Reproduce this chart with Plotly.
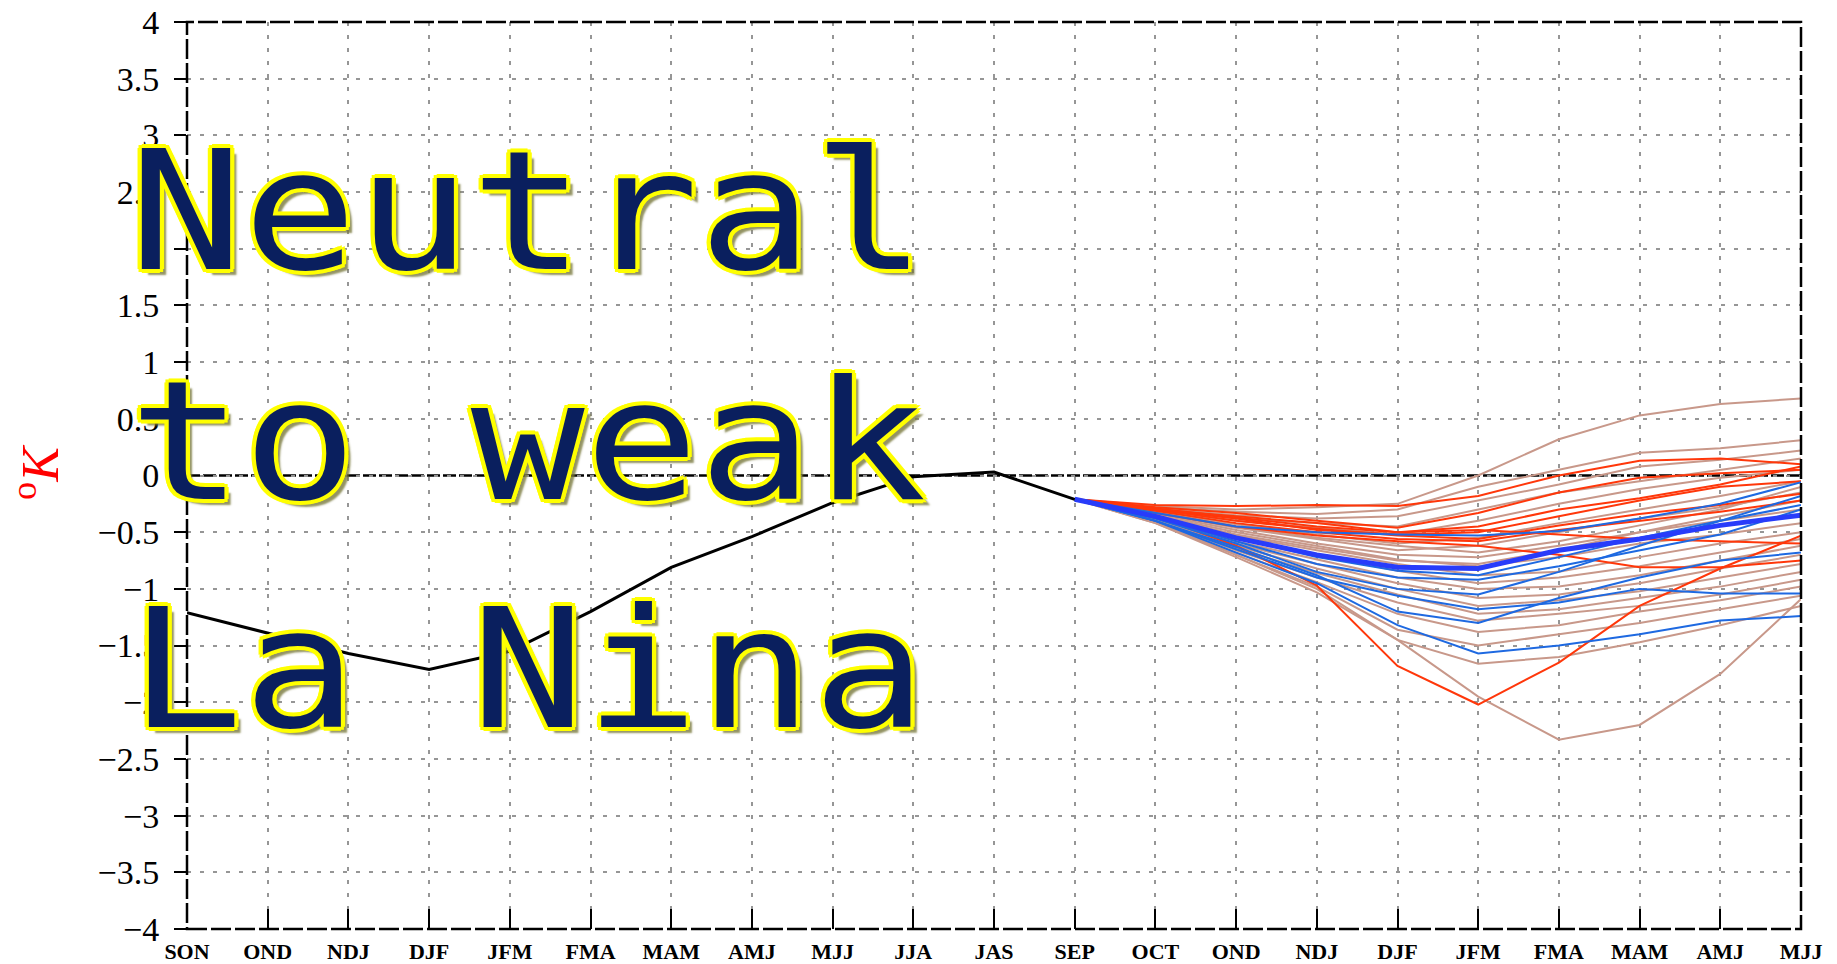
import plotly.graph_objects as go

# ---------------- data ----------------
season_labels = ["SON", "OND", "NDJ", "DJF", "JFM", "FMA", "MAM", "AMJ", "MJJ", "JJA",
                 "JAS", "SEP", "OCT", "OND", "NDJ", "DJF", "JFM", "FMA", "MAM", "AMJ", "MJJ"]
season_pos = list(range(len(season_labels)))

y_tick_vals = [4, 3.5, 3, 2.5, 2, 1.5, 1, 0.5, 0, -0.5, -1, -1.5, -2, -2.5, -3, -3.5, -4]
y_tick_text = ["4", "3.5", "3", "2.5", "2", "1.5", "1", "0.5", "0", "\u22120.5", "\u22121",
               "\u22121.5", "\u22122", "\u22122.5", "\u22123", "\u22123.5", "\u22124"]

# observed anomalies (SON .. SEP)
observed = [-1.21, -1.39, -1.57, -1.71, -1.55, -1.20, -0.81, -0.54, -0.24, -0.01, 0.03, -0.21]

# forecast positions: SEP .. MJJ (indices 11..20)
fc_pos = season_pos[11:]

red_members = [
    [-0.21, -0.36, -0.62, -0.97, -1.68, -2.02, -1.65, -1.15, -0.82, -0.53],
    [-0.21, -0.26, -0.27, -0.26, -0.27, -0.18, 0.00, 0.13, 0.15, 0.10],
    [-0.21, -0.28, -0.33, -0.40, -0.46, -0.33, -0.15, -0.02, 0.02, 0.05],
    [-0.21, -0.30, -0.38, -0.48, -0.52, -0.50, -0.36, -0.22, -0.10, -0.05],
    [-0.21, -0.31, -0.42, -0.50, -0.56, -0.58, -0.48, -0.40, -0.32, -0.22],
    [-0.21, -0.33, -0.45, -0.53, -0.58, -0.62, -0.70, -0.81, -0.81, -0.75],
    [-0.21, -0.30, -0.40, -0.47, -0.53, -0.56, -0.44, -0.34, -0.26, -0.16],
    [-0.21, -0.29, -0.37, -0.45, -0.50, -0.48, -0.52, -0.56, -0.58, -0.60],
    [-0.21, -0.30, -0.36, -0.42, -0.50, -0.45, -0.30, -0.20, -0.08, 0.08],
]

blue_members = [
    [-0.21, -0.40, -0.68, -0.95, -1.32, -1.57, -1.50, -1.40, -1.28, -1.24],
    [-0.21, -0.40, -0.65, -0.90, -1.06, -1.18, -1.12, -1.00, -1.04, -1.04],
    [-0.21, -0.38, -0.60, -0.85, -1.00, -1.05, -0.85, -0.62, -0.40, -0.18],
    [-0.21, -0.33, -0.45, -0.50, -0.52, -0.53, -0.49, -0.38, -0.25, -0.06],
    [-0.21, -0.37, -0.58, -0.78, -0.90, -0.92, -0.80, -0.66, -0.52, -0.30],
    [-0.21, -0.40, -0.63, -0.88, -1.20, -1.30, -1.08, -0.90, -0.75, -0.68],
    [-0.21, -0.36, -0.55, -0.72, -0.84, -0.88, -0.72, -0.55, -0.40, -0.26],
]

brown_members = [
    [-0.21, -0.27, -0.30, -0.28, -0.25, 0.00, 0.32, 0.53, 0.63, 0.68],
    [-0.21, -0.28, -0.32, -0.34, -0.30, -0.10, 0.05, 0.20, 0.24, 0.31],
    [-0.21, -0.29, -0.35, -0.38, -0.36, -0.22, -0.08, 0.08, 0.14, 0.22],
    [-0.21, -0.30, -0.38, -0.42, -0.45, -0.30, -0.15, -0.05, 0.05, 0.15],
    [-0.21, -0.31, -0.40, -0.46, -0.52, -0.40, -0.25, -0.12, -0.02, 0.05],
    [-0.21, -0.32, -0.43, -0.52, -0.60, -0.55, -0.42, -0.30, -0.18, -0.05],
    [-0.21, -0.33, -0.46, -0.56, -0.66, -0.62, -0.50, -0.38, -0.28, -0.15],
    [-0.21, -0.34, -0.48, -0.60, -0.70, -0.72, -0.62, -0.50, -0.40, -0.30],
    [-0.21, -0.35, -0.50, -0.62, -0.74, -0.80, -0.72, -0.60, -0.52, -0.42],
    [-0.21, -0.36, -0.53, -0.66, -0.78, -0.88, -0.85, -0.72, -0.60, -0.50],
    [-0.21, -0.37, -0.55, -0.70, -0.84, -0.95, -0.90, -0.80, -0.68, -0.56],
    [-0.21, -0.38, -0.58, -0.74, -0.90, -1.00, -0.98, -0.88, -0.75, -0.62],
    [-0.21, -0.38, -0.60, -0.78, -0.95, -1.08, -1.05, -0.95, -0.82, -0.70],
    [-0.21, -0.39, -0.62, -0.82, -1.00, -1.15, -1.10, -1.02, -0.90, -0.78],
    [-0.21, -0.40, -0.64, -0.86, -1.05, -1.22, -1.18, -1.08, -0.98, -0.85],
    [-0.21, -0.40, -0.66, -0.90, -1.12, -1.28, -1.22, -1.15, -1.05, -0.92],
    [-0.21, -0.41, -0.68, -0.94, -1.22, -1.38, -1.32, -1.20, -1.10, -0.98],
    [-0.21, -0.41, -0.70, -0.98, -1.36, -1.50, -1.40, -1.30, -1.18, -1.06],
    [-0.21, -0.42, -0.70, -1.00, -1.45, -1.66, -1.60, -1.47, -1.32, -1.15],
    [-0.21, -0.42, -0.72, -1.03, -1.45, -1.95, -2.33, -2.20, -1.75, -1.09],
    [-0.21, -0.36, -0.52, -0.64, -0.75, -0.78, -0.66, -0.50, -0.36, -0.22],
    [-0.21, -0.33, -0.45, -0.55, -0.62, -0.68, -0.58, -0.44, -0.30, -0.10],
]

ensemble_mean = [-0.21, -0.36, -0.55, -0.70, -0.81, -0.82, -0.66, -0.56, -0.44, -0.35]

overlay_lines = ["Neutral", "to weak", "La Nina"]

# ---------------- styles ----------------
RED = "rgb(255,55,10)"
BROWN = "rgb(200,152,138)"
BLUE = "rgb(30,105,225)"
MEAN = "rgb(40,60,250)"

fig = go.Figure()

for m in brown_members:
    fig.add_trace(go.Scatter(x=fc_pos, y=m, mode="lines",
                             line=dict(color=BROWN, width=2), hoverinfo="skip"))
for m in red_members:
    fig.add_trace(go.Scatter(x=fc_pos, y=m, mode="lines",
                             line=dict(color=RED, width=2), hoverinfo="skip"))
for m in blue_members:
    fig.add_trace(go.Scatter(x=fc_pos, y=m, mode="lines",
                             line=dict(color=BLUE, width=2), hoverinfo="skip"))
fig.add_trace(go.Scatter(x=fc_pos, y=ensemble_mean, mode="lines",
                         line=dict(color=MEAN, width=5), hoverinfo="skip"))
fig.add_trace(go.Scatter(x=season_pos[:len(observed)], y=observed, mode="lines",
                         line=dict(color="black", width=3), hoverinfo="skip"))

grid_dash = "4px,9px"
grid_col = "rgb(150,150,150)"
fig.update_xaxes(
    range=[0, 20], tickmode="array", tickvals=season_pos, ticktext=season_labels,
    ticks="inside", ticklen=20, tickwidth=1.5, tickcolor="black",
    tickfont=dict(family="Liberation Serif", size=22, color="black", weight="bold"),
    ticklabelstandoff=7, automargin=False,
    showgrid=True, gridcolor=grid_col, gridwidth=1.5, griddash=grid_dash,
    zeroline=False, showline=False,
)
fig.update_yaxes(
    range=[-4, 4], tickmode="array", tickvals=y_tick_vals, ticktext=y_tick_text,
    ticks="outside", ticklen=12, tickwidth=1.5, tickcolor="black",
    tickfont=dict(family="Liberation Serif", size=34, color="black"),
    ticklabelstandoff=8, automargin=False,
    showgrid=True, gridcolor=grid_col, gridwidth=1.5, griddash=grid_dash,
    zeroline=False, showline=False,
)

shapes = [
    dict(type="line", xref="paper", x0=0, x1=1, yref="y", y0=0, y1=0,
         line=dict(color="black", width=2.5, dash="13px,3px"), layer="below"),
    dict(type="rect", xref="paper", yref="paper", x0=0, x1=1, y0=0, y1=1,
         line=dict(color="black", width=2.5, dash="20px,4px"), layer="above"),
]

outline = ", ".join([
    "4px 0px 0px #ffff00", "-4px 0px 0px #ffff00", "0px 4px 0px #ffff00", "0px -4px 0px #ffff00",
    "3px 3px 0px #ffff00", "-3px -3px 0px #ffff00", "3px -3px 0px #ffff00", "-3px 3px 0px #ffff00",
    "6px 6px 2px rgba(120,120,60,0.8)",
])

overlay_y = [0.7910, 0.5374, 0.2860]
annotations = []
for txt, yy in zip(overlay_lines, overlay_y):
    annotations.append(dict(
        text=txt, xref="paper", yref="paper", x=-0.037, y=yy,
        xanchor="left", yanchor="middle", align="left", showarrow=False,
        font=dict(family="DejaVu Sans Mono", size=166, color="#0a1f5e", shadow=outline),
    ))
annotations.append(dict(
    text="<sup>o</sup><i>K</i>", xref="paper", yref="paper",
    x=(36 - 187) / 1614, y=(929 - 473) / 907, xanchor="center", yanchor="middle",
    textangle=-90, showarrow=False,
    font=dict(family="Liberation Serif", size=52, color="red"),
))

fig.update_layout(
    width=1837, height=964, autosize=False,
    margin=dict(l=187, r=36, t=22, b=35, pad=0, autoexpand=False),
    paper_bgcolor="white", plot_bgcolor="white",
    showlegend=False, shapes=shapes, annotations=annotations,
)

# widen the overlay lettering horizontally, as in the reference image
post = """
document.body.style.margin='0';
var gd = document.getElementById('{plot_id}');
var words = %s;
gd.querySelectorAll('text.annotation-text').forEach(function(t){
  if (words.indexOf(t.textContent) >= 0) {
    var b = t.getBBox();
    var x0 = b.x;
    var prev = t.getAttribute('transform') || '';
    t.setAttribute('transform', prev + ' translate(' + x0 + ',0) scale(1.14,1) translate(' + (-x0) + ',0)');
  }
});
""" % str(overlay_lines).replace("'", '"')

fig.write_html("out.html", config={"displayModeBar": False}, post_script=post)
